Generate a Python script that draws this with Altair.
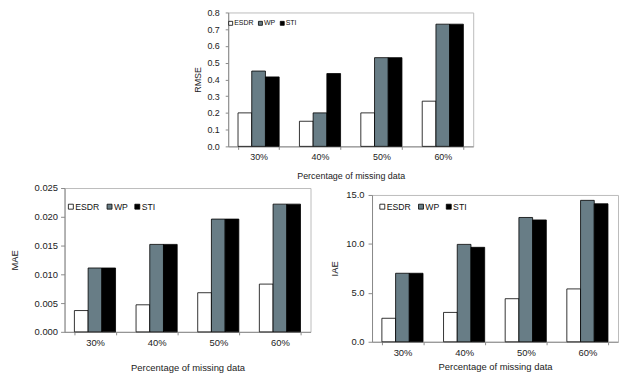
import altair as alt
import pandas as pd

categories = ["30%", "40%", "50%", "60%"]
series = ["ESDR", "WP", "STI"]
colors = ["#ffffff", "#687d86", "#000000"]

rmse_esdr = [0.20, 0.15, 0.20, 0.27]
rmse_wp = [0.45, 0.20, 0.53, 0.73]
rmse_sti = [0.415, 0.435, 0.53, 0.73]

mae_esdr = [0.0037, 0.0047, 0.0068, 0.0083]
mae_wp = [0.0111, 0.0152, 0.0196, 0.0222]
mae_sti = [0.0111, 0.0152, 0.0196, 0.0222]

iae_esdr = [2.4, 3.0, 4.4, 5.4]
iae_wp = [7.0, 9.95, 12.7, 14.45]
iae_sti = [7.0, 9.65, 12.45, 14.1]

rmse_ticks = [0.0, 0.1, 0.2, 0.3, 0.4, 0.5, 0.6, 0.7, 0.8]
mae_ticks = [0.0, 0.005, 0.010, 0.015, 0.020, 0.025]
iae_ticks = [0.0, 5.0, 10.0, 15.0]

FONT = "Liberation Sans"


def make_df(a, b, c):
    rows = []
    for s, vals in zip(series, [a, b, c]):
        for cat, v in zip(categories, vals):
            rows.append({"cat": cat, "series": s, "value": v})
    return pd.DataFrame(rows)


def panel(df, ytitle, ticks, fmt, w, h, fs, lfs, ssize, lpad,
          ylab_pad, ytitle_pad, ytick, xlab_pad, xtitle_pad, lx, ly):
    return alt.Chart(df).mark_bar(stroke="black", strokeWidth=0.8).encode(
        x=alt.X("cat:N", sort=categories, title="Percentage of missing data",
                scale=alt.Scale(paddingInner=0.33, paddingOuter=0.16),
                axis=alt.Axis(labelAngle=0, tickBand="extent", tickSize=3,
                              labelPadding=xlab_pad, titlePadding=xtitle_pad,
                              labelFontSize=fs, titleFontSize=fs)),
        xOffset=alt.XOffset("series:N", sort=series,
                            scale=alt.Scale(paddingInner=0, paddingOuter=0)),
        y=alt.Y("value:Q", title=ytitle,
                scale=alt.Scale(domain=[ticks[0], ticks[-1]], nice=False),
                axis=alt.Axis(values=ticks, format=fmt, grid=False,
                              tickSize=ytick, labelPadding=ylab_pad,
                              titlePadding=ytitle_pad,
                              labelFontSize=fs, titleFontSize=fs)),
        color=alt.Color("series:N", sort=series,
                        scale=alt.Scale(domain=series, range=colors),
                        legend=alt.Legend(orient="none", legendX=lx, legendY=ly,
                                          direction="horizontal", title=None,
                                          symbolType="square", symbolSize=ssize,
                                          symbolStrokeColor="black",
                                          symbolStrokeWidth=0.8,
                                          labelFontSize=lfs, labelOffset=0,
                                          columnPadding=lpad, padding=0,
                                          gridAlign="each",
                                          labelFont=FONT)),
    ).properties(width=w, height=h)


top = panel(make_df(rmse_esdr, rmse_wp, rmse_sti), "RMSE", rmse_ticks, ".1f",
            247, 135, 9, 7, 16, 2, 6, 4, 3, 3.5, 9.5, -1, 7)
bl = panel(make_df(mae_esdr, mae_wp, mae_sti), "MAE", mae_ticks, ".3f",
           248, 145, 9.5, 8.75, 25, 5, 3, 14.75, 4, 2.5, 15.5, 2, 14)
br = panel(make_df(iae_esdr, iae_wp, iae_sti), "IAE", iae_ticks, ".1f",
           248, 148, 9.5, 8.75, 25, 5, 4, 6, 4, 3.25, 4.5, 6, 7)

spacer_df = pd.DataFrame({"a": [0]})
spacer = alt.Chart(spacer_df).mark_rule(opacity=0, strokeWidth=0.1).encode(
    x=alt.value(1), x2=alt.value(2), y=alt.value(1)
).properties(width=129, height=10, view=alt.ViewBackground(strokeOpacity=0))
spacer2 = alt.Chart(spacer_df).mark_rule(opacity=0, strokeWidth=0.1).encode(
    x=alt.value(0), x2=alt.value(1), y=alt.value(0.1)
).properties(width=1, height=1, view=alt.ViewBackground(strokeOpacity=0))

br_col = alt.vconcat(spacer2, br, spacing=0).resolve_scale(color="independent")

chart = alt.vconcat(
    alt.hconcat(spacer, top, spacing=0).resolve_scale(color="independent"),
    alt.hconcat(bl, br_col, spacing=18).resolve_scale(color="independent"),
    spacing=1,
).resolve_scale(color="independent").properties(
    padding={"left": 0, "top": -2, "right": 0, "bottom": 0}
).configure_view(
    stroke="#bbbbbb", strokeWidth=1
).configure_axis(
    labelFont=FONT, titleFont=FONT, titleFontWeight="normal",
    labelColor="#222222", titleColor="#222222",
    domainColor="#8a8a8a", tickColor="#8a8a8a",
).configure_legend(
    labelColor="#111111"
)

chart.save("out.html", embed_options={"renderer": "svg", "actions": False})
